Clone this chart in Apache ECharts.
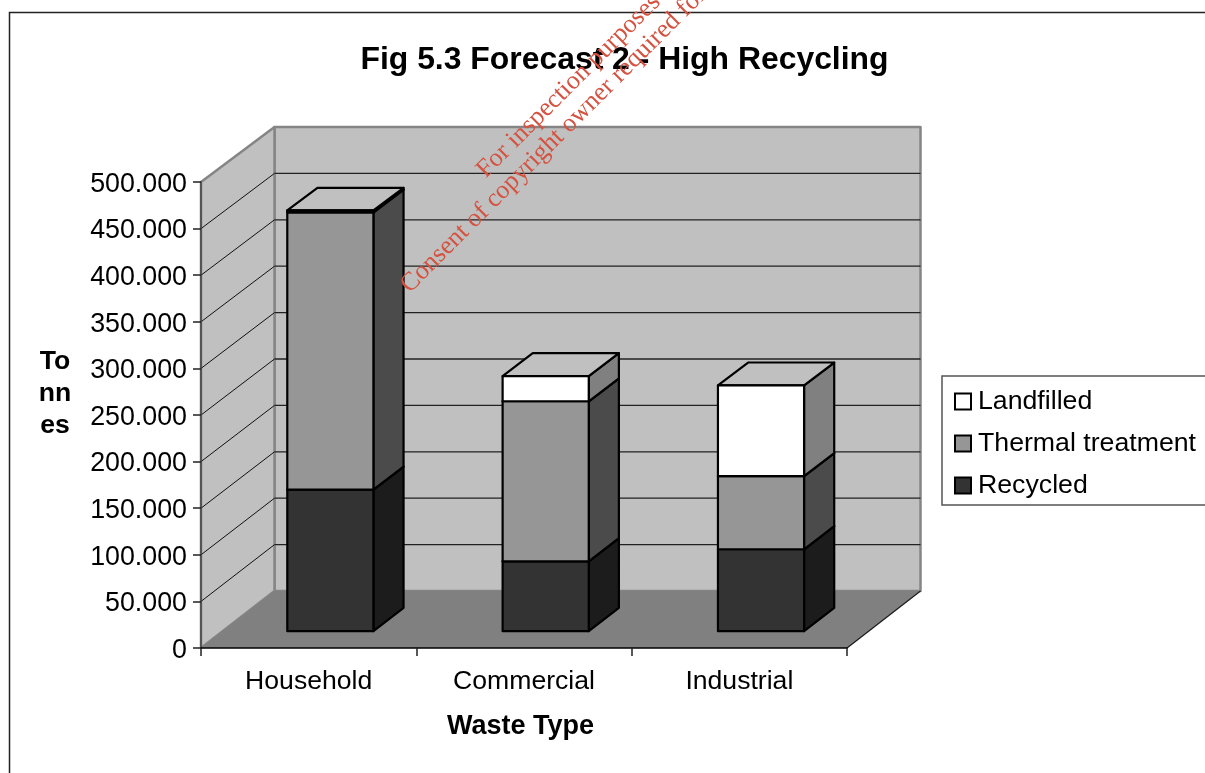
<!DOCTYPE html>
<html>
<head>
<meta charset="utf-8">
<title>Fig 5.3 Forecast 2 - High Recycling</title>
<script src="https://cdn.jsdelivr.net/npm/echarts@6/dist/echarts.min.js"></script>
<style>
  html, body { margin: 0; padding: 0; background: #fff; overflow: hidden; }
  #chart { width: 1205px; height: 773px; }
</style>
</head>
<body>
<div id="chart"></div>
<script>
const categories = ['Household', 'Commercial', 'Industrial'];
const recycled = [152000, 75000, 88000];
const thermal = [298000, 172000, 78500];
const landfilled = [2000, 27000, 97500];
const gridValues = [50000, 100000, 150000, 200000, 250000, 300000, 350000, 400000, 450000];

const axisMax = 500000;
const axisStep = 50000;
const uiFont = '"Liberation Sans", Arial, sans-serif';

// Oblique projection of the chart box: how far the back plane sits from the front plane.
const depthX = 73.5;
const riseAtZero = 57;
const riseAtMax = 55;
const barNear = 0.295;
const barFar = 0.705;
const barWidthRatio = 0.4;

function shift(point, value, depth) {
  const rise = riseAtZero + (riseAtMax - riseAtZero) * value / axisMax;
  return [point[0] + depthX * depth, point[1] - rise * depth];
}

function polygon(points, fill, stroke, width) {
  return {
    type: 'polygon',
    shape: { points: points },
    style: { fill: fill, stroke: stroke, lineWidth: width, lineJoin: 'round' }
  };
}

function renderBackdrop(params, api) {
  const sys = params.coordSys;
  const left = sys.x;
  const right = sys.x + sys.width;
  const yAt = function (v) { return api.coord([0, v])[1]; };
  const corner = function (x, v, depth) { return shift([x, yAt(v)], v, depth); };
  const edge = '#858585';
  const children = [
    polygon([corner(left, 0, 1), corner(right, 0, 1), corner(right, axisMax, 1), corner(left, axisMax, 1)], '#c0c0c0', edge, 2.5),
    polygon([corner(left, 0, 0), corner(left, 0, 1), corner(left, axisMax, 1), corner(left, axisMax, 0)], '#c0c0c0', edge, 2.5),
    polygon([corner(left, 0, 0), corner(right, 0, 0), corner(right, 0, 1), corner(left, 0, 1)], '#808080', 'none', 0)
  ];
  children.push({
    type: 'line',
    shape: { x1: corner(right, 0, 0)[0], y1: corner(right, 0, 0)[1], x2: corner(right, 0, 1)[0], y2: corner(right, 0, 1)[1] },
    style: { stroke: '#1a1a1a', lineWidth: 1.2 }
  });
  gridValues.forEach(function (v) {
    const a = corner(left, v, 0);
    const b = corner(left, v, 1);
    const c = corner(right, v, 1);
    children.push({ type: 'line', shape: { x1: a[0], y1: a[1], x2: b[0], y2: b[1] }, style: { stroke: '#111', lineWidth: 1 } });
    children.push({ type: 'line', shape: { x1: b[0], y1: b[1], x2: c[0], y2: c[1] }, style: { stroke: '#222', lineWidth: 1.3 } });
  });
  return { type: 'group', children: children };
}

function boxRenderer(sideColor, topColor) {
  return function (params, api) {
    const idx = api.value(0);
    const base = api.value(1);
    const top = base + api.value(2);
    const band = api.size([1, 0])[0];
    const cx = api.coord([idx, 0])[0];
    const x0 = cx - band * barWidthRatio / 2;
    const x1 = cx + band * barWidthRatio / 2;
    const at = function (x, v, depth) { return shift([x, api.coord([idx, v])[1]], v, depth); };
    const front = api.style().fill;
    const line = 2.2;
    return {
      type: 'group',
      children: [
        polygon([at(x1, base, barNear), at(x1, base, barFar), at(x1, top, barFar), at(x1, top, barNear)], sideColor, '#000', line),
        polygon([at(x0, top, barNear), at(x1, top, barNear), at(x1, top, barFar), at(x0, top, barFar)], topColor, '#000', line),
        polygon([at(x0, base, barNear), at(x1, base, barNear), at(x1, top, barNear), at(x0, top, barNear)], front, '#000', line)
      ]
    };
  };
}

const running = categories.map(function () { return 0; });
function stackRows(values) {
  return values.map(function (v, i) {
    const row = [i, running[i], v];
    running[i] += v;
    return row;
  });
}

function boxSeries(name, values, fill, side, top, z) {
  return {
    name: name,
    type: 'custom',
    coordinateSystem: 'cartesian2d',
    z: z,
    silent: true,
    itemStyle: { color: fill, borderColor: '#000', borderWidth: 1.5 },
    encode: { x: 0, y: [1, 2] },
    data: stackRows(values),
    renderItem: boxRenderer(side, top)
  };
}

const chart = echarts.init(document.getElementById('chart'), null, { renderer: 'canvas' });

chart.setOption({
  animation: false,
  backgroundColor: '#ffffff',
  title: {
    text: 'Fig 5.3 Forecast 2 - High Recycling',
    left: 619.5,
    top: 39,
    textAlign: 'center',
    textStyle: { fontFamily: uiFont, fontSize: 31.9, fontWeight: 'bold', color: '#000' }
  },
  grid: { left: 201, top: 182, width: 646, height: 466, containLabel: false },
  xAxis: {
    type: 'category',
    data: categories,
    z: 10,
    name: 'Waste Type',
    nameLocation: 'middle',
    nameGap: 65,
    nameTextStyle: { fontFamily: uiFont, fontSize: 27, fontWeight: 'bold', color: '#000', padding: [0, 7, 0, 0] },
    axisLine: { lineStyle: { color: '#000', width: 1.5 } },
    axisTick: { show: true, alignWithLabel: false, length: 8, lineStyle: { color: '#222', width: 1.5 } },
    axisLabel: { fontFamily: uiFont, fontSize: 26.6, color: '#000', margin: 20 }
  },
  yAxis: {
    type: 'value',
    min: 0,
    max: axisMax,
    interval: axisStep,
    z: 10,
    axisLine: { show: true, lineStyle: { color: '#444', width: 1.5 } },
    axisTick: { show: true, length: 8, lineStyle: { color: '#222', width: 1.5 } },
    splitLine: { show: false },
    axisLabel: {
      fontFamily: uiFont,
      fontSize: 26.8,
      lineHeight: 27,
      color: '#000',
      margin: 14,
      verticalAlign: 'top',
      padding: [-11, 0, 0, 0],
      formatter: function (v) { return v === 0 ? '0' : (v / 1000) + '.000'; }
    }
  },
  legend: {
    orient: 'vertical',
    left: 942,
    top: 376,
    data: ['Landfilled', 'Thermal treatment', 'Recycled'],
    icon: 'rect',
    itemWidth: 16,
    itemHeight: 16,
    itemGap: 15,
    padding: [12, 12, 6, 12],
    selectedMode: false,
    borderColor: '#555',
    borderWidth: 1.5,
    backgroundColor: '#fff',
    textStyle: { fontFamily: uiFont, fontSize: 26.7, color: '#000', padding: [0, 0, 0, 2] }
  },
  graphic: [
    { type: 'polyline', z: -1, silent: true, shape: { points: [[9.5, 773], [9.5, 12.5], [1205, 12.5]] }, style: { fill: 'none', stroke: '#222', lineWidth: 1.5 } },
    { type: 'text', z: 20, silent: true, x: 55, y: 394, style: { text: 'To\nnn\nes', font: 'bold 26.6px "Liberation Sans", Arial, sans-serif', lineHeight: 32, fill: '#000', textAlign: 'center', textVerticalAlign: 'middle' } },
    { type: 'text', z: 100, silent: true, x: 490, y: 183, rotation: Math.PI / 4, style: { text: 'For inspection purposes only.', font: '26px "Liberation Serif", serif', fill: '#d4523f', textAlign: 'left', textVerticalAlign: 'bottom' } },
    { type: 'text', z: 100, silent: true, x: 414, y: 298, rotation: Math.PI / 4, style: { text: 'Consent of copyright owner required for any other use.', font: '26px "Liberation Serif", serif', fill: '#d4523f', textAlign: 'left', textVerticalAlign: 'bottom' } }
  ],
  series: [
    {
      name: 'backdrop',
      type: 'custom',
      coordinateSystem: 'cartesian2d',
      z: 1,
      silent: true,
      data: [[0, 0]],
      renderItem: renderBackdrop
    },
    boxSeries('Recycled', recycled, '#333333', '#1c1c1c', '#666666', 3),
    boxSeries('Thermal treatment', thermal, '#969696', '#4b4b4b', '#c0c0c0', 4),
    boxSeries('Landfilled', landfilled, '#ffffff', '#808080', '#c0c0c0', 5)
  ]
});
</script>
</body>
</html>
